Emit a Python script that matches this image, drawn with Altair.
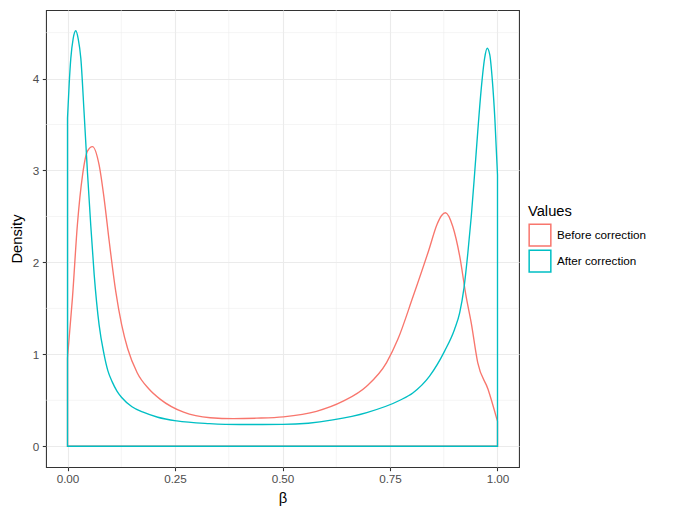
import altair as alt
import pandas as pd

series_names = ["Before correction", "After correction"]
series_colors = ["#F8766D", "#00BFC4"]

before_x = [0.0, 0.0116, 0.023, 0.035, 0.0464, 0.058, 0.0735, 0.085, 0.097, 0.112,
            0.126, 0.14, 0.162, 0.19, 0.216, 0.27, 0.332, 0.386, 0.44, 0.502,
            0.579, 0.641, 0.695, 0.742, 0.768, 0.803, 0.84, 0.86, 0.87, 0.879, 0.896,
            0.912, 0.927, 0.939, 0.954, 0.978, 1.0]
before_y = [0.96, 1.62, 2.41, 2.95, 3.21, 3.26, 3.06, 2.70, 2.23, 1.69,
            1.32, 1.06, 0.80, 0.62, 0.51, 0.37, 0.31, 0.30, 0.305, 0.32,
            0.38, 0.49, 0.65, 0.91, 1.16, 1.62, 2.13, 2.42, 2.51, 2.54, 2.39,
            2.07, 1.63, 1.34, 0.91, 0.62, 0.27]

after_x = [0.0, 0.004, 0.0077, 0.013, 0.0193, 0.025, 0.031, 0.0387, 0.0464, 0.054,
           0.062, 0.0735, 0.085, 0.094, 0.104, 0.115, 0.126, 0.15, 0.176, 0.21,
           0.254, 0.33, 0.40, 0.50, 0.56, 0.617, 0.696, 0.773, 0.803, 0.842, 0.877,
           0.900, 0.912, 0.922, 0.931, 0.939, 0.947, 0.954, 0.962, 0.970, 0.976,
           0.982, 0.988, 0.994, 1.0]
after_y = [3.57, 3.95, 4.22, 4.43, 4.52, 4.43, 4.22, 3.62, 2.98, 2.41,
           1.87, 1.32, 1.00, 0.82, 0.70, 0.60, 0.53, 0.43, 0.37, 0.315,
           0.275, 0.246, 0.236, 0.237, 0.250, 0.286, 0.366, 0.50, 0.58, 0.763, 1.035,
           1.27, 1.45, 1.72, 2.10, 2.50, 2.98, 3.42, 3.88, 4.22, 4.33,
           4.26, 3.98, 3.55, 2.95]

x_ticks = [0.0, 0.25, 0.5, 0.75, 1.0]
y_ticks = [0, 1, 2, 3, 4]
x_minor = [0.125, 0.375, 0.625, 0.875]
y_minor = [0.5, 1.5, 2.5, 3.5, 4.5]

x_domain = [-0.05, 1.05]
y_domain = [-0.226, 4.746]

FONT = "Liberation Sans"

before_df = pd.DataFrame({"beta": before_x, "density": before_y, "Values": series_names[0]})
after_df = pd.DataFrame({"beta": after_x, "density": after_y, "Values": series_names[1]})

xscale = alt.Scale(domain=x_domain, nice=False, zero=False)
yscale = alt.Scale(domain=y_domain, nice=False, zero=False)
cscale = alt.Scale(domain=series_names, range=series_colors)

x_axis = alt.Axis(
    values=x_ticks, format=".2f", title="β",
    grid=True, gridColor="#EBEBEB", gridWidth=1.1,
    domain=False, tickColor="#333333", tickSize=3.7, tickWidth=1.07,
    labelColor="#4D4D4D", labelFontSize=11.7, labelFont=FONT, labelPadding=2.6,
    titleFont=FONT, titleFontSize=14.7, titleFontWeight="normal", titleColor="#000000",
    titlePadding=5, labelFlush=False, labelOverlap=False,
)
y_axis = alt.Axis(
    values=y_ticks, format="d", title="Density",
    grid=True, gridColor="#EBEBEB", gridWidth=1.1,
    domain=False, tickColor="#333333", tickSize=3.7, tickWidth=1.07,
    labelColor="#4D4D4D", labelFontSize=11.7, labelFont=FONT, labelPadding=3.5,
    titleFont=FONT, titleFontSize=14.7, titleFontWeight="normal", titleColor="#000000",
    titlePadding=8, labelFlush=False, labelOverlap=False,
)

legend = alt.Legend(
    title="Values", orient="none", legendX=482, legendY=194,
    titleFont=FONT, titleFontSize=14.7, titleFontWeight="normal", titleColor="#000000",
    titlePadding=4.5,
    labelFont=FONT, labelFontSize=11.7, labelColor="#000000", labelOffset=5,
    symbolType="square", symbolSize=470, symbolStrokeWidth=1.5,
    symbolFillColor="#FFFFFF", rowPadding=-3.5, padding=0,
)

grid_x = alt.Chart(pd.DataFrame({"v": x_minor})).mark_rule(
    color="#EBEBEB", strokeWidth=0.55
).encode(x=alt.X("v:Q", scale=xscale, axis=x_axis))

grid_y = alt.Chart(pd.DataFrame({"v": y_minor})).mark_rule(
    color="#EBEBEB", strokeWidth=0.55
).encode(y=alt.Y("v:Q", scale=yscale, axis=y_axis))


def density_layer(df):
    return alt.Chart(df).mark_area(
        interpolate="monotone", fill="#FFFFFF", fillOpacity=0, strokeWidth=1.35
    ).encode(
        x=alt.X("beta:Q", scale=xscale, axis=x_axis),
        y=alt.Y("density:Q", scale=yscale, stack=False, axis=y_axis),
        y2=alt.datum(0),
        stroke=alt.Stroke("Values:N", scale=cscale, legend=legend),
    )


chart = alt.layer(
    grid_x, grid_y,
    density_layer(before_df),
    density_layer(after_df),
).properties(
    width=473, height=457,
    autosize=alt.AutoSizeParams(type="none"),
    padding={"left": 46, "top": 10, "right": 161, "bottom": 53},
    background="#FFFFFF",
).configure_view(
    stroke="#333333", strokeWidth=1.07
)

chart.save("out.html", embed_options={"renderer": "svg", "actions": False})
